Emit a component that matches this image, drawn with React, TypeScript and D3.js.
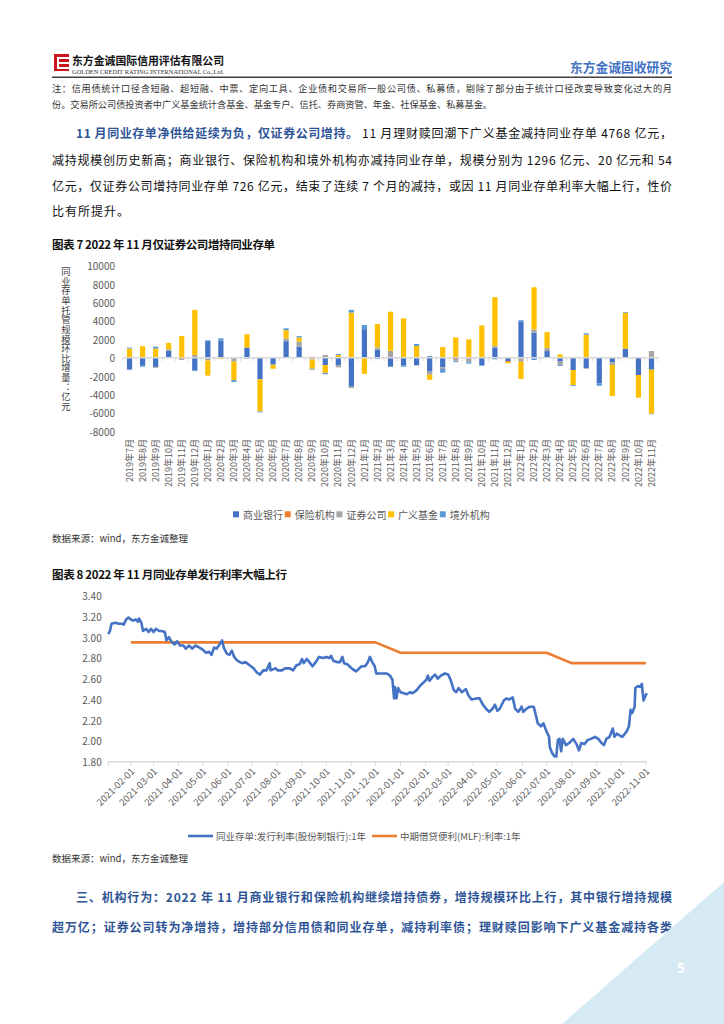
import React from "react";
import * as d3 from "d3";

const FONT = '"Noto Sans CJK SC", "Noto Sans", sans-serif';

// ---------- Chart 7 data (亿元) ----------
const months = [
  "2019年7月", "2019年8月", "2019年9月", "2019年10月", "2019年11月", "2019年12月",
  "2020年1月", "2020年2月", "2020年3月", "2020年4月", "2020年5月", "2020年6月",
  "2020年7月", "2020年8月", "2020年9月", "2020年10月", "2020年11月", "2020年12月",
  "2021年1月", "2021年2月", "2021年3月", "2021年4月", "2021年5月", "2021年6月",
  "2021年7月", "2021年8月", "2021年9月", "2021年10月", "2021年11月", "2021年12月",
  "2022年1月", "2022年2月", "2022年3月", "2022年4月", "2022年5月", "2022年6月",
  "2022年7月", "2022年8月", "2022年9月", "2022年10月", "2022年11月",
];
const bankFlow = [
  -1300, -800, -1000, 760, 0, -1350, 1800, 1850, 0, 1100, -2350, -700,
  1800, 1200, 0, -800, -800, -3150, 3100, 870, -900, -800, -800, -1520,
  -1050, -180, 0, -800, 1100, -360, 3900, 2700, 720, -430, -1340, -1160,
  -2800, -500, 980, -1880, -1296,
];
const insuranceFlow = [
  0, 0, 0, 0, -150, 0, 0, 0, 0, 0, 0, 0,
  0, 0, 100, 0, 0, 0, 0, 0, 0, 0, 0, 0,
  0, -100, 0, 0, 0, -100, 0, 0, 0, 0, 0, 0,
  0, 0, 0, 0, -20,
];
const securitiesFlow = [
  0, 0, -100, 150, -100, 300, -300, 0, -430, 0, 0, -100,
  300, 550, -200, 300, -250, -150, 0, 250, 750, 0, -50, -330,
  -180, -100, -500, 0, 180, 0, -430, 360, 360, -360, 0, -50,
  0, -300, 0, 0, 726,
];
const fundFlow = [
  1000, 1250, 1000, 700, 2350, 4900, -1650, -150, -2000, 1450, -3500, -400,
  900, 450, -1000, -850, 300, 4900, -1750, 2550, 4250, 4280, 1270, -550,
  1160, 2200, 2000, 3500, 5300, -150, -1880, 4600, 1700, 360, -1630, 2500,
  0, -3370, 3900, -2460, -4768,
];
const foreignFlow = [
  100, -180, 200, 0, 0, -100, 100, 250, -200, -100, -100, 0,
  200, 150, -100, -150, 100, 300, 450, -150, -100, -180, 220, 180,
  -400, -100, -150, -80, -180, 0, 180, -250, 0, -100, -100, 150,
  -250, 0, 80, 0, -54,
];
const seriesNames = ["商业银行", "保险机构", "证券公司", "广义基金", "境外机构"];
const seriesColors = ["#4472C4", "#ED7D31", "#A5A5A5", "#FFC000", "#5B9BD5"];
const barTicks = [-8000, -6000, -4000, -2000, 0, 2000, 4000, 6000, 8000, 10000];
const barAxisTitle = "同业存单托管规模环比增量：亿元";

// ---------- Chart 8 data (%) ----------
const ncdRate: [string, number][] = [
  ["2021-01-04", 3.03], ["2021-01-06", 3.06], ["2021-01-08", 3.13], ["2021-01-13", 3.14],
  ["2021-01-17", 3.13], ["2021-01-21", 3.13], ["2021-01-23", 3.12], ["2021-01-26", 3.17],
  ["2021-01-29", 3.19], ["2021-02-01", 3.17], ["2021-02-04", 3.16], ["2021-02-07", 3.17],
  ["2021-02-10", 3.15], ["2021-02-11", 3.18], ["2021-02-14", 3.14], ["2021-02-16", 3.06],
  ["2021-02-20", 3.08], ["2021-02-23", 3.05], ["2021-02-26", 3.08], ["2021-03-01", 3.05],
  ["2021-03-04", 3.08], ["2021-03-08", 3.06], ["2021-03-11", 3.06], ["2021-03-15", 3.05],
  ["2021-03-17", 2.97], ["2021-03-20", 3.0], ["2021-03-23", 2.96], ["2021-03-27", 2.93],
  ["2021-03-30", 2.96], ["2021-04-03", 2.92], ["2021-04-07", 2.92], ["2021-04-10", 2.89],
  ["2021-04-14", 2.92], ["2021-04-18", 2.89], ["2021-04-22", 2.92], ["2021-04-27", 2.9],
  ["2021-05-01", 2.88], ["2021-05-05", 2.85], ["2021-05-09", 2.86], ["2021-05-12", 2.83],
  ["2021-05-15", 2.9], ["2021-05-18", 2.89], ["2021-05-21", 2.92], ["2021-05-25", 2.97],
  ["2021-05-27", 2.9], ["2021-05-31", 2.84], ["2021-06-03", 2.83], ["2021-06-06", 2.87],
  ["2021-06-09", 2.81], ["2021-06-12", 2.78], ["2021-06-16", 2.76], ["2021-06-19", 2.75],
  ["2021-06-23", 2.76], ["2021-06-28", 2.73], ["2021-07-03", 2.7], ["2021-07-07", 2.66],
  ["2021-07-11", 2.64], ["2021-07-15", 2.68], ["2021-07-19", 2.68], ["2021-07-23", 2.75],
  ["2021-07-24", 2.68], ["2021-07-30", 2.7], ["2021-08-02", 2.68], ["2021-08-07", 2.68],
  ["2021-08-11", 2.7], ["2021-08-17", 2.7], ["2021-08-21", 2.68], ["2021-08-25", 2.73],
  ["2021-08-29", 2.74], ["2021-09-01", 2.79], ["2021-09-03", 2.75], ["2021-09-07", 2.79],
  ["2021-09-11", 2.75], ["2021-09-14", 2.72], ["2021-09-18", 2.76], ["2021-09-22", 2.81],
  ["2021-09-27", 2.8], ["2021-10-01", 2.81], ["2021-10-05", 2.8], ["2021-10-07", 2.82],
  ["2021-10-10", 2.77], ["2021-10-14", 2.76], ["2021-10-18", 2.76], ["2021-10-21", 2.81],
  ["2021-10-23", 2.75], ["2021-10-27", 2.74], ["2021-10-31", 2.71], ["2021-11-03", 2.69],
  ["2021-11-07", 2.67], ["2021-11-11", 2.7], ["2021-11-14", 2.72], ["2021-11-18", 2.72],
  ["2021-11-21", 2.75], ["2021-11-24", 2.81], ["2021-11-27", 2.76], ["2021-11-30", 2.72],
  ["2021-12-02", 2.65], ["2021-12-07", 2.65], ["2021-12-11", 2.65], ["2021-12-15", 2.65],
  ["2021-12-19", 2.63], ["2021-12-22", 2.59], ["2021-12-24", 2.41], ["2021-12-25", 2.52],
  ["2021-12-27", 2.41], ["2021-12-29", 2.51], ["2022-01-01", 2.47], ["2022-01-05", 2.46],
  ["2022-01-09", 2.45], ["2022-01-13", 2.47], ["2022-01-16", 2.46], ["2022-01-21", 2.49],
  ["2022-01-25", 2.53], ["2022-01-29", 2.56], ["2022-02-02", 2.59], ["2022-02-04", 2.63],
  ["2022-02-06", 2.58], ["2022-02-10", 2.62], ["2022-02-13", 2.64], ["2022-02-16", 2.6],
  ["2022-02-20", 2.63], ["2022-02-25", 2.65], ["2022-03-01", 2.64], ["2022-03-04", 2.59],
  ["2022-03-08", 2.49], ["2022-03-11", 2.47], ["2022-03-14", 2.51], ["2022-03-18", 2.47],
  ["2022-03-23", 2.5], ["2022-03-26", 2.44], ["2022-03-30", 2.4], ["2022-04-05", 2.41],
  ["2022-04-09", 2.41], ["2022-04-13", 2.35], ["2022-04-17", 2.31], ["2022-04-21", 2.28],
  ["2022-04-25", 2.31], ["2022-04-28", 2.35], ["2022-05-01", 2.29], ["2022-05-04", 2.31],
  ["2022-05-09", 2.39], ["2022-05-12", 2.41], ["2022-05-16", 2.4], ["2022-05-20", 2.42],
  ["2022-05-23", 2.31], ["2022-05-27", 2.28], ["2022-05-31", 2.33], ["2022-06-02", 2.28],
  ["2022-06-06", 2.31], ["2022-06-10", 2.33], ["2022-06-15", 2.33], ["2022-06-17", 2.27],
  ["2022-06-20", 2.17], ["2022-06-24", 2.14], ["2022-06-27", 2.17], ["2022-07-01", 2.09],
  ["2022-07-04", 2.04], ["2022-07-05", 1.94], ["2022-07-08", 1.88], ["2022-07-11", 1.85],
  ["2022-07-13", 1.85], ["2022-07-15", 2.01], ["2022-07-17", 2.02], ["2022-07-19", 1.9],
  ["2022-07-21", 2.02], ["2022-07-25", 1.96], ["2022-07-29", 1.98], ["2022-08-03", 2.02],
  ["2022-08-07", 1.97], ["2022-08-10", 1.91], ["2022-08-13", 1.98], ["2022-08-17", 1.97],
  ["2022-08-21", 2.01], ["2022-08-25", 2.02], ["2022-08-30", 2.04], ["2022-09-03", 2.02],
  ["2022-09-07", 1.98], ["2022-09-10", 1.96], ["2022-09-13", 2.02], ["2022-09-17", 2.04],
  ["2022-09-21", 2.12], ["2022-09-23", 2.04], ["2022-09-26", 2.07], ["2022-09-30", 2.05],
  ["2022-10-03", 2.04], ["2022-10-08", 2.09], ["2022-10-11", 2.14], ["2022-10-13", 2.3],
  ["2022-10-15", 2.27], ["2022-10-18", 2.33], ["2022-10-19", 2.51], ["2022-10-22", 2.53],
  ["2022-10-25", 2.52], ["2022-10-27", 2.55], ["2022-10-29", 2.39], ["2022-11-02", 2.46],
];
const mlfDates = [
  "2021-02-01", "2021-03-01", "2021-04-01", "2021-05-01", "2021-06-01", "2021-07-01",
  "2021-08-01", "2021-09-01", "2021-10-01", "2021-11-01", "2021-12-01", "2022-01-01",
  "2022-02-01", "2022-03-01", "2022-04-01", "2022-05-01", "2022-06-01", "2022-07-01",
  "2022-08-01", "2022-09-01", "2022-10-01", "2022-11-01",
];
const mlfRate = [
  2.95, 2.95, 2.95, 2.95, 2.95, 2.95, 2.95, 2.95, 2.95, 2.95, 2.95, 2.85,
  2.85, 2.85, 2.85, 2.85, 2.85, 2.85, 2.75, 2.75, 2.75, 2.75,
];
const rateTicks = [1.8, 2.0, 2.2, 2.4, 2.6, 2.8, 3.0, 3.2, 3.4];
const rateAxisLabels = mlfDates;
const rateLegend = ["同业存单:发行利率(股份制银行):1年", "中期借贷便利(MLF):利率:1年"];

const parse = d3.timeParse("%Y-%m-%d");

function BarChart() {
  const x = d3.scaleBand<string>().domain(months).range([123, 658]).paddingInner(0.6).paddingOuter(0.3);
  const y = d3.scaleLinear().domain([-8000, 10000]).range([431.3, 265.7]);
  const rows = months.map((m, i) => ({
    m,
    s0: bankFlow[i],
    s1: insuranceFlow[i],
    s2: securitiesFlow[i],
    s3: fundFlow[i],
    s4: foreignFlow[i],
  }));
  const keys = ["s0", "s1", "s2", "s3", "s4"];
  const stacked = d3.stack<any>().keys(keys).offset(d3.stackOffsetDiverging)(rows);
  const step = x.step();
  return (
    <g>
      <text
        x={66}
        y={267}
        fontSize={9.3}
        fill="#404040"
        textLength={144}
        lengthAdjust="spacing"
        style={{ writingMode: "vertical-rl", textOrientation: "upright" } as any}
      >
        {barAxisTitle}
      </text>
      {barTicks.map((t) => (
        <text key={t} x={115} y={y(t)} textAnchor="end" dominantBaseline="central" fontSize={10} fill="#595959">
          {t}
        </text>
      ))}
      {stacked.map((layer, li) => (
        <g key={li} fill={seriesColors[li]}>
          {layer.map((d, i) => {
            const y0 = y(d[0]);
            const y1 = y(d[1]);
            const h = Math.abs(y0 - y1);
            if (h < 0.01) return null;
            return <rect key={i} x={x(months[i])} y={Math.min(y0, y1)} width={x.bandwidth()} height={h} />;
          })}
        </g>
      ))}
      <line x1={123} x2={658} y1={y(0)} y2={y(0)} stroke="#D9D9D9" strokeWidth={1.5} />
      {d3.range(months.length + 1).map((i) => {
        const xx = 123 + i * step;
        return <line key={i} x1={xx} x2={xx} y1={y(0)} y2={y(0) + 3.5} stroke="#D9D9D9" strokeWidth={1} />;
      })}
      {months.map((m) => (
        <text
          key={m}
          transform={`translate(${(x(m) as number) + x.bandwidth() / 2},439) rotate(-90)`}
          textAnchor="end"
          dy="0.35em"
          fontSize={9}
          fill="#595959"
        >
          {m}
        </text>
      ))}
      {seriesNames.map((n, i) => (
        <g key={n}>
          <rect x={233 + i * 51.7} y={511.3} width={6} height={6} fill={seriesColors[i]} />
          <text x={243 + i * 51.7} y={514.5} dominantBaseline="central" fontSize={10} fill="#595959">
            {n}
          </text>
        </g>
      ))}
    </g>
  );
}

function LineChart() {
  const x = d3.scaleTime().domain([parse("2021-01-04")!, parse("2022-11-02")!]).range([108.3, 646.7]);
  const y = d3.scaleLinear().domain([1.8, 3.4]).range([761.7, 595.7]);
  const line = d3
    .line<[Date, number]>()
    .x((d) => x(d[0]))
    .y((d) => y(d[1]));
  const ncd: [Date, number][] = ncdRate.map((d) => [parse(d[0])!, d[1]]);
  const mlf: [Date, number][] = mlfDates.map((d, i) => [parse(d)!, mlfRate[i]]);
  return (
    <g>
      {rateTicks.map((t) => (
        <text key={t} x={101.7} y={y(t)} textAnchor="end" dominantBaseline="central" fontSize={10} fill="#595959">
          {t.toFixed(2)}
        </text>
      ))}
      <line x1={108.3} x2={646.7} y1={y(1.8)} y2={y(1.8)} stroke="#D9D9D9" strokeWidth={1.5} />
      {[108.3].concat(rateAxisLabels.map((d) => x(parse(d)!))).map((xx, i) => (
        <line key={i} x1={xx} x2={xx} y1={y(1.8)} y2={y(1.8) + 4} stroke="#D9D9D9" strokeWidth={1} />
      ))}
      {rateAxisLabels.map((d) => (
        <text
          key={d}
          transform={`translate(${x(parse(d)!) + 2},${y(1.8) + 8}) rotate(-45)`}
          textAnchor="end"
          dy="0.35em"
          fontSize={9.5}
          fill="#595959"
        >
          {d}
        </text>
      ))}
      <path d={line(mlf) || ""} fill="none" stroke="#ED7D31" strokeWidth={2.6} strokeLinejoin="round" />
      <path d={line(ncd) || ""} fill="none" stroke="#4472C4" strokeWidth={2.6} strokeLinejoin="round" />
      <line x1={188} x2={213} y1={836} y2={836} stroke="#4472C4" strokeWidth={2.6} />
      <text x={216} y={836} dominantBaseline="central" fontSize={9.5} fill="#595959">
        {rateLegend[0]}
      </text>
      <line x1={372} x2={397} y1={836} y2={836} stroke="#ED7D31" strokeWidth={2.6} />
      <text x={400} y={836} dominantBaseline="central" fontSize={9.5} fill="#595959">
        {rateLegend[1]}
      </text>
    </g>
  );
}

export default function App() {
  const blue = "#2F5597";
  return (
    <svg
      width={724}
      height={1024}
      viewBox="0 0 724 1024"
      style={{ position: "absolute", left: 0, top: 0, background: "#fff", fontFamily: FONT }}
    >
      <rect x={0} y={0} width={724} height={1024} fill="#fff" />
      {/* header */}
      <g>
        <rect x={54} y={54} width={15} height={17} fill="#C9151E" />
        <rect x={57} y={57} width={12} height={2} fill="#fff" />
        <rect x={57} y={62} width={12} height={2} fill="#fff" />
        <rect x={57} y={67} width={12} height={2} fill="#fff" />
        <rect x={57} y={57} width={2} height={12} fill="#fff" />
        <text x={72} y={65} fontSize={11} fontWeight={700} fill="#111" textLength={152} lengthAdjust="spacingAndGlyphs">
          东方金诚国际信用评估有限公司
        </text>
        <text x={72} y={73.5} fontSize={5.4} fill="#333" fontFamily='"Liberation Serif", serif' textLength={152} lengthAdjust="spacingAndGlyphs">
          GOLDEN CREDIT RATING INTERNATIONAL Co.,Ltd.
        </text>
        <text x={672} y={72} textAnchor="end" fontSize={13} fontWeight={700} fill="#4472C4" textLength={102} lengthAdjust="spacingAndGlyphs">
          东方金诚固收研究
        </text>
        <line x1={52} x2={672} y1={77.3} y2={77.3} stroke="#404040" strokeWidth={1.4} />
      </g>
      {/* note */}
      <text x={52} y={91.5} fontSize={9.2} fill="#333" textLength={620} lengthAdjust="spacing">
        注：信用债统计口径含短融、超短融、中票、定向工具、企业债和交易所一般公司债、私募债，剔除了部分由于统计口径改变导致变化过大的月
      </text>
      <text x={52} y={107.5} fontSize={9.2} fill="#333" textLength={440} lengthAdjust="spacing">
        份。交易所公司债投资者中广义基金统计含基金、基金专户、信托、券商资管、年金、社保基金、私募基金。
      </text>
      {/* paragraph */}
      <text x={76} y={138.3} fontSize={12} fontWeight={700} fill={blue} textLength={282} lengthAdjust="spacing">
        11 月同业存单净供给延续为负，仅证券公司增持。
      </text>
      <text x={362} y={138.3} fontSize={12} fill="#111" textLength={310} lengthAdjust="spacing">
        11 月理财赎回潮下广义基金减持同业存单 4768 亿元，
      </text>
      <text x={52} y={165.3} fontSize={12} fill="#111" textLength={620} lengthAdjust="spacing">
        减持规模创历史新高；商业银行、保险机构和境外机构亦减持同业存单，规模分别为 1296 亿元、20 亿元和 54
      </text>
      <text x={52} y={191.3} fontSize={12} fill="#111" textLength={620} lengthAdjust="spacing">
        亿元，仅证券公司增持同业存单 726 亿元，结束了连续 7 个月的减持，或因 11 月同业存单利率大幅上行，性价
      </text>
      <text x={52} y={216.3} fontSize={12} fill="#111" textLength={77} lengthAdjust="spacing">
        比有所提升。
      </text>
      {/* chart 7 */}
      <text x={52} y={249} fontSize={11.5} fontWeight={700} fill="#111" textLength={223} lengthAdjust="spacing">
        图表 7 2022 年 11 月仅证券公司增持同业存单
      </text>
      <BarChart />
      <text x={52} y={541.5} fontSize={9.5} fill="#333">
        数据来源：wind，东方金诚整理
      </text>
      {/* chart 8 */}
      <text x={52} y={579} fontSize={11.5} fontWeight={700} fill="#111" textLength={235} lengthAdjust="spacing">
        图表 8 2022 年 11 月同业存单发行利率大幅上行
      </text>
      <LineChart />
      <text x={52} y={861.5} fontSize={9.5} fill="#333">
        数据来源：wind，东方金诚整理
      </text>
      {/* bottom paragraph */}
      <text x={76} y={902.3} fontSize={12} fontWeight={700} fill={blue} textLength={596} lengthAdjust="spacing">
        三、机构行为：2022 年 11 月商业银行和保险机构继续增持债券，增持规模环比上行，其中银行增持规模
      </text>
      <text x={52} y={932.3} fontSize={12} fontWeight={700} fill={blue} textLength={620} lengthAdjust="spacing">
        超万亿；证券公司转为净增持，增持部分信用债和同业存单，减持利率债；理财赎回影响下广义基金减持各类
      </text>
      {/* corner */}
      <polygon points="724,882 724,1024 562,1024" fill="#D5EAF2" />
      <text x={681} y={973} textAnchor="middle" fontSize={14} fontWeight={700} fill="#fff">
        5
      </text>
    </svg>
  );
}
